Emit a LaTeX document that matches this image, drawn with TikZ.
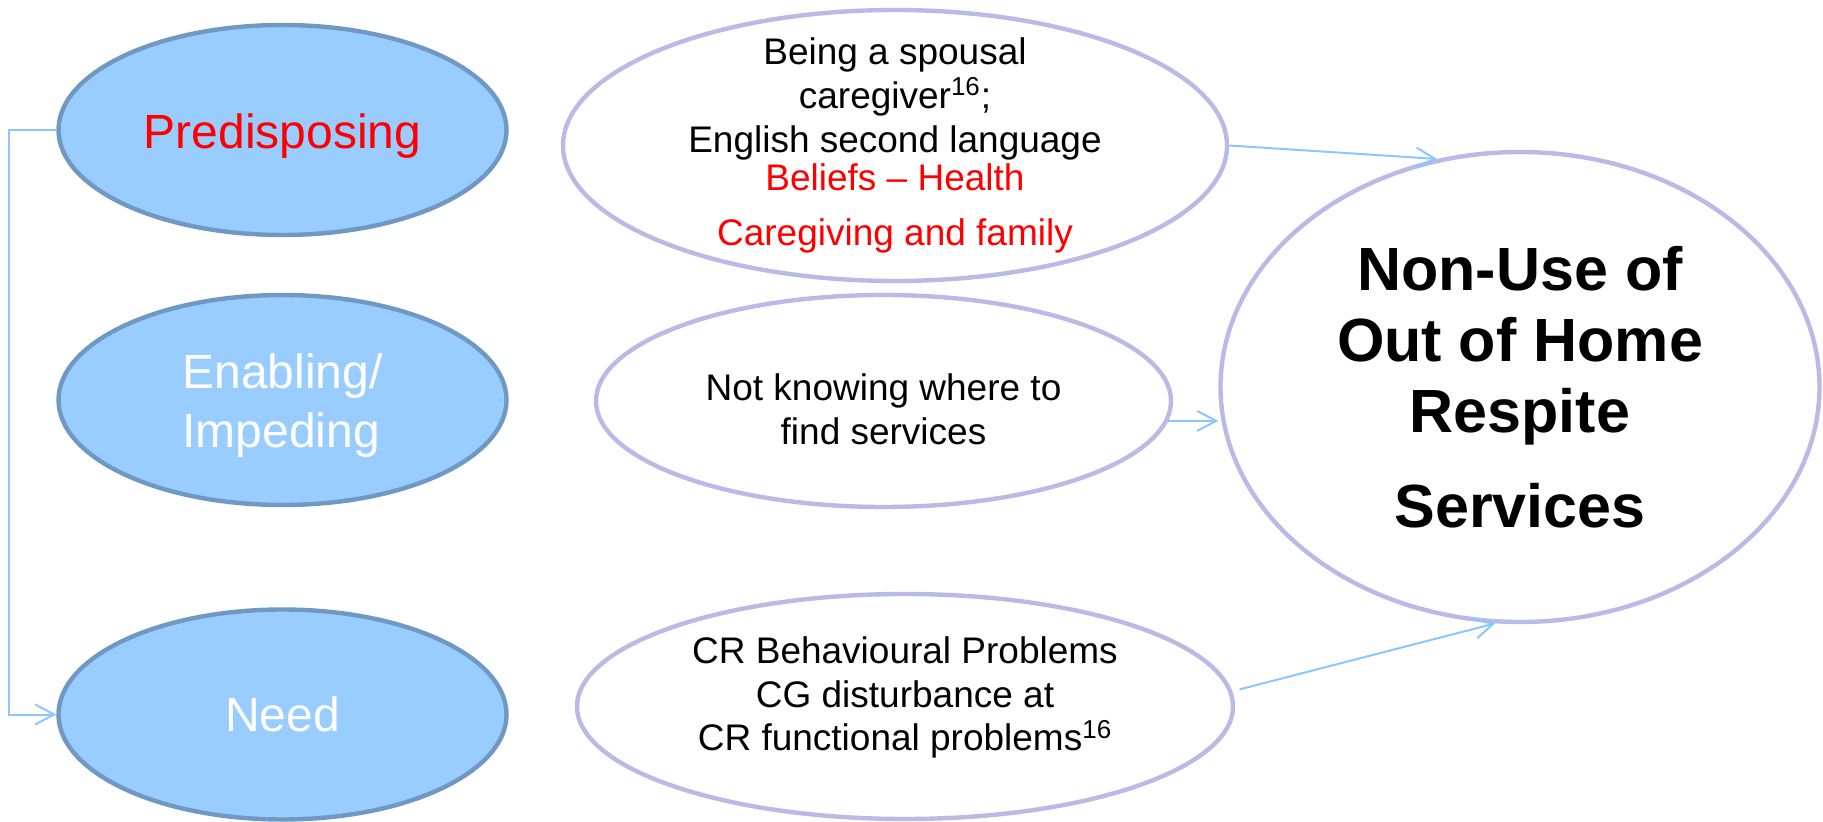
\documentclass[tikz,border=0pt]{standalone}
\usepackage{fontspec}
\setmainfont{Liberation Sans}
\usetikzlibrary{arrows.meta,shapes.geometric}
\definecolor{factorfill}{HTML}{99CCFF}
\definecolor{factorline}{HTML}{6F98C3}
\definecolor{ovalline}{HTML}{B9BAE6}
\definecolor{linkblue}{HTML}{8CC6FF}

\begin{document}
\begin{tikzpicture}[x=0.5pt,y=-0.5pt,
  factor/.style={ellipse, draw=factorline, fill=factorfill, line width=2.2pt,
    minimum width=224pt, minimum height=105pt, inner sep=0pt},
  oval/.style={ellipse, draw=ovalline, line width=2.2pt, inner sep=0pt},
  factortext/.style={align=left, inner sep=0pt, font=\fontsize{24}{29.5}\selectfont},
  ovaltext/.style={align=center, inner sep=0pt, font=\fontsize{18.5}{21.8}\selectfont},
  link/.style={draw=linkblue, line width=1pt, -{Straight Barb[length=9.5pt,width=10pt]}}]
  \useasboundingbox (0,0) rectangle (1823,822);

  % left column
  \node[factor] (pred) at (282.5,130) {};
  \node[factor] (enab) at (282.5,400) {};
  \node[factor] (need) at (282.5,714.5) {};
  \node[factortext, text=red, yshift=-3pt] (predtxt) at (pred) {Predisposing};
  \node[factortext, text=white, yshift=-3pt] (enabtxt) at (enab) {Enabling/\\Impeding};
  \node[factortext, text=white] (needtxt) at (need) {Need};

  % middle column
  \node[oval, minimum width=332pt, minimum height=135.5pt] (care) at (895,145.5) {};
  \node[oval, minimum width=287.5pt, minimum height=106pt] (find) at (883.5,401) {};
  \node[oval, minimum width=328pt, minimum height=112.5pt] (prob) at (905,706.5) {};
  \node[ovaltext] (caretxt) at (care) {Being a spousal\\ caregiver\textsuperscript{16};\\ English second language\\[-2.5pt]
    \textcolor{red}{Beliefs -- Health}\\[5.5pt] \textcolor{red}{Caregiving and family}};
  \node[ovaltext, yshift=-4pt] (findtxt) at (find) {Not knowing where to\\ find services};
  \node[ovaltext, yshift=4.5pt] (probtxt) at (prob) {CR Behavioural Problems\\ CG disturbance at\\
    CR functional problems\textsuperscript{16}};

  % outcome
  \node[oval, minimum width=299.5pt, minimum height=235pt] (big) at (1520,387) {};
  \node[align=center, inner sep=0pt, font=\fontsize{30.5}{35.5}\selectfont\bfseries] (bigtxt) at (big)
    {Non-Use of\\ Out of Home\\ Respite\\[12pt] Services};

  % connectors
  \coordinate (rail) at (9,0);
  \draw[link] (pred.west) -- (pred.west -| rail) |- (need.west);
  \draw[link] (care.east) -- (big.110);
  \draw[link] (find.-4) -- (find.-4 -| big.west);
  \draw[link] ([xshift=4pt]prob.3) -- (big.264);
\end{tikzpicture}
\end{document}
